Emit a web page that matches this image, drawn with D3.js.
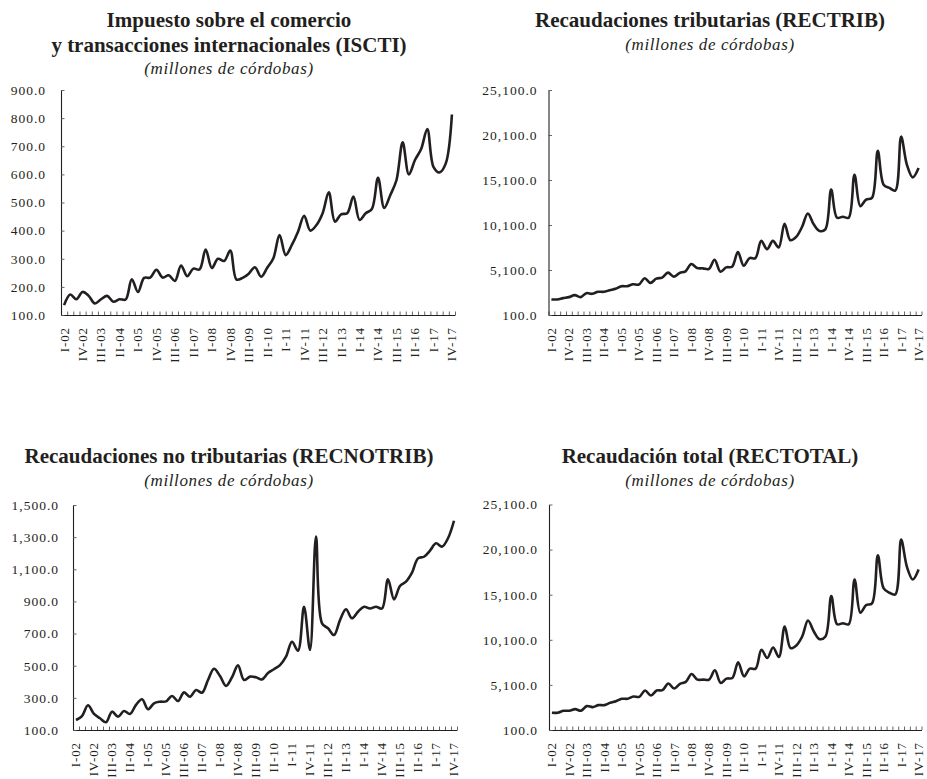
<!DOCTYPE html>
<html>
<head>
<meta charset="utf-8">
<script src="https://cdn.jsdelivr.net/npm/d3@7/dist/d3.min.js"></script>
<style>
  html, body { margin: 0; padding: 0; background: #fff; }
  svg { display: block; }
  text { font-family: "Liberation Serif", "Times New Roman", serif; fill: #231f20; }
</style>
</head>
<body>
<svg id="chart" width="927" height="779"></svg>
<script>
// ---------------- DATA ----------------
const categories = [
  "I-02","II-02","III-02","IV-02","I-03","II-03","III-03","IV-03",
  "I-04","II-04","III-04","IV-04","I-05","II-05","III-05","IV-05",
  "I-06","II-06","III-06","IV-06","I-07","II-07","III-07","IV-07",
  "I-08","II-08","III-08","IV-08","I-09","II-09","III-09","IV-09",
  "I-10","II-10","III-10","IV-10","I-11","II-11","III-11","IV-11",
  "I-12","II-12","III-12","IV-12","I-13","II-13","III-13","IV-13",
  "I-14","II-14","III-14","IV-14","I-15","II-15","III-15","IV-15",
  "I-16","II-16","III-16","IV-16","I-17","II-17","III-17","IV-17"
];

const isctiValues = [
  135,173,156,182,168,141,156,168,147,156,
  155,227,182,232,233,261,233,241,221,276,
  238,265,262,333,267,300,292,329,226,232,
  247,270,236,268,302,384,313,349,396,453,
  400,420,462,536,432,458,462,521,438,462,
  477,588,481,527,580,714,600,651,690,761,
  627,607,639,813
];

const rectribValues = [
  1828,1828,1975,2086,2306,2086,2527,2453,2674,2674,
  2858,3005,3299,3299,3519,3483,4181,3666,4144,4255,
  4806,4365,4769,4953,5762,5321,5284,5210,6240,4916,
  5394,5468,7085,5578,6423,6423,8335,7416,8335,7600,
  10246,8408,8776,9879,11386,10173,9438,9621,14033,10908,
  11018,10908,15687,12195,12930,13114,18334,14584,14217,13922,
  19914,16790,15393,16422
];

const recnotribValues = [
  162,187,254,200,173,148,214,183,218,200,
  256,291,229,266,276,278,312,280,334,307,
  349,332,411,481,436,374,428,502,411,432,
  428,415,455,478,504,556,649,593,867,598,
  1303,764,733,691,784,851,795,836,867,856,
  867,856,1038,913,996,1023,1079,1168,1178,1216,
  1262,1241,1293,1402
];

const rectotalValues = [
  2012,2012,2233,2233,2417,2233,2747,2637,2858,2858,
  3115,3299,3556,3556,3813,3777,4475,3924,4475,4512,
  5247,4696,5210,5431,6313,5688,5688,5688,6717,5321,
  5798,5872,7600,6056,6901,6901,8997,8078,9254,8188,
  11570,9180,9474,10467,12231,11018,10173,10467,14952,11827,
  11937,11827,16790,13114,13959,14143,19473,15797,15319,15135,
  21201,18186,16790,17893
];

const isctiTicks = [100,200,300,400,500,600,700,800,900];
const rectribTicks = [100,5100,10100,15100,20100,25100];
const recnotribTicks = [100,300,500,700,900,1100,1300,1500];
const rectotalTicks = [100,5100,10100,15100,20100,25100];

const titles = [
  ["Impuesto sobre el comercio", "y transacciones internacionales (ISCTI)"],
  ["Recaudaciones tributarias (RECTRIB)"],
  ["Recaudaciones no tributarias (RECNOTRIB)"],
  ["Recaudación total (RECTOTAL)"]
];
const subtitle = "(millones de córdobas)";

// ---------------- LAYOUT ----------------
const panels = [
  { values: isctiValues, ticks: isctiTicks, title: titles[0],
    x0: 61, x1: 455, yTop: 90, yBot: 315, titleX: 229, titleY: 26.5, lineGap: 25, subY: 73.5, labelEnd: 46 },
  { values: rectribValues, ticks: rectribTicks, title: titles[1],
    x0: 548.5, x1: 921.5, yTop: 90, yBot: 315, titleX: 710, titleY: 26.5, lineGap: 25, subY: 49.5, labelEnd: 537.5 },
  { values: recnotribValues, ticks: recnotribTicks, title: titles[2],
    x0: 73, x1: 457, yTop: 505, yBot: 730, titleX: 229, titleY: 462.5, lineGap: 25, subY: 485.5, labelEnd: 59 },
  { values: rectotalValues, ticks: rectotalTicks, title: titles[3],
    x0: 549, x1: 921.5, yTop: 504.5, yBot: 730, titleX: 710, titleY: 462.5, lineGap: 25, subY: 485.5, labelEnd: 538 }
];

const svg = d3.select("#chart");
const fmt = d3.format(",.1f");
const ink = "#231f20";

panels.forEach(p => {
  const g = svg.append("g");

  // titles
  p.title.forEach((t, k) => {
    g.append("text")
      .attr("x", p.titleX).attr("y", p.titleY + k * p.lineGap)
      .attr("text-anchor", "middle")
      .style("font-size", "21px").style("font-weight", "bold")
      .text(t);
  });
  g.append("text")
    .attr("x", p.titleX).attr("y", p.subY)
    .attr("text-anchor", "middle")
    .style("font-size", "17px").style("font-style", "italic")
    .style("letter-spacing", "0.6px")
    .text(subtitle);

  const xBand = d3.scaleBand().domain(categories).range([p.x0, p.x1]).paddingInner(0).paddingOuter(0);
  const xLin = d3.scaleLinear().domain([0, categories.length]).range([p.x0, p.x1]);
  const y = d3.scaleLinear().domain([p.ticks[0], p.ticks[p.ticks.length - 1]]).range([p.yBot, p.yTop]);

  // x boundary ticks (inside)
  const xt = g.append("g").attr("transform", `translate(0,${p.yBot})`)
    .call(d3.axisBottom(xLin).tickValues(d3.range(categories.length + 1)).tickSize(-3.5).tickSizeOuter(0).tickFormat(""));
  xt.select(".domain").attr("stroke", ink).attr("stroke-width", 1.1);
  xt.selectAll(".tick line").attr("stroke", "#555").attr("stroke-width", 0.9);

  // x labels (every third category)
  const xl = g.append("g").attr("transform", `translate(0,${p.yBot})`)
    .call(d3.axisBottom(xBand).tickValues(categories.filter((c, i) => i % 3 === 0)).tickSize(0).tickPadding(0));
  xl.select(".domain").remove();
  xl.selectAll(".tick text")
    .attr("transform", "rotate(-90)")
    .attr("x", -12).attr("y", 0).attr("dy", "0.34em")
    .attr("text-anchor", "end")
    .style("font-family", "'Liberation Serif', serif")
    .style("font-size", "13px")
    .style("letter-spacing", "0.9px")
    .style("fill", ink);

  // y axis
  const ya = g.append("g").attr("transform", `translate(${p.x0},0)`)
    .call(d3.axisLeft(y).tickValues(p.ticks).tickSize(-3.5).tickSizeOuter(0).tickFormat(fmt).tickPadding(p.x0 - p.labelEnd));
  ya.select(".domain").attr("stroke", ink).attr("stroke-width", 1.1);
  ya.selectAll(".tick line").attr("stroke", "#555").attr("stroke-width", 0.9);
  ya.selectAll(".tick text")
    .style("font-family", "'Liberation Serif', serif")
    .style("font-size", "13.5px")
    .style("letter-spacing", "1px")
    .style("fill", ink);

  // line
  const line = d3.line()
    .x((d, i) => xBand(categories[i]) + xBand.bandwidth() / 2)
    .y(d => y(d))
    .curve(d3.curveCatmullRom.alpha(0.5));
  g.append("path")
    .datum(p.values)
    .attr("fill", "none")
    .attr("stroke", ink)
    .attr("stroke-width", 2.6)
    .attr("stroke-linejoin", "round")
    .attr("d", line);
});
</script>
</body>
</html>
